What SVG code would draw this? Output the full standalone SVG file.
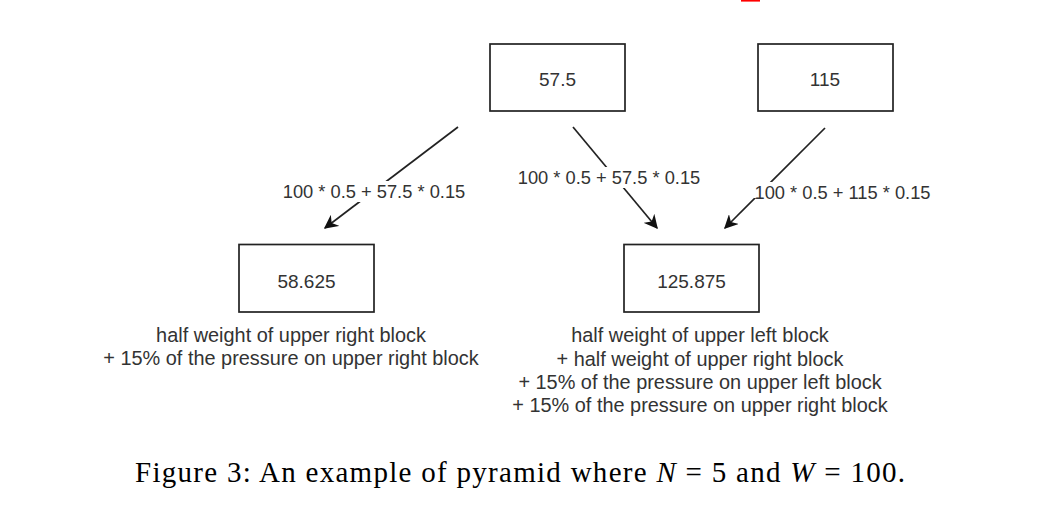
<svg xmlns="http://www.w3.org/2000/svg" width="1042" height="520" viewBox="0 0 1042 520">
<defs>
<style>
.box{fill:#fff;stroke:#222;stroke-width:1.7}
.val{font-family:"Liberation Sans",Arial,sans-serif;font-size:19px;fill:#333;text-anchor:middle}
.lbl{font-family:"Liberation Sans",Arial,sans-serif;font-size:18.3px;fill:#333;text-anchor:middle}
.note{font-family:"Liberation Sans",Arial,sans-serif;font-size:19.9px;fill:#333;text-anchor:middle}
.edge{stroke:#222;stroke-width:1.7;fill:none;marker-end:url(#arr)}
.cap{font-family:"Liberation Serif","Times New Roman",serif;font-size:29px;fill:#000}
</style>
<marker id="arr" viewBox="0 0 10 10" refX="9" refY="5" markerWidth="14" markerHeight="14" markerUnits="userSpaceOnUse" orient="auto">
<path d="M0,0 L10,5 L0,10 L3,5 z" fill="#111"/>
</marker>
</defs>
<rect width="1042" height="520" fill="#fff"/>
<rect x="741" y="0" width="19" height="1.6" fill="#f00"/>

<g id="connectors">
<line class="edge" x1="458" y1="127" x2="325" y2="228"/>
<line class="edge" x1="573" y1="127" x2="657" y2="228"/>
<line class="edge" x1="825" y1="128" x2="725" y2="228"/>
<rect x="282" y="181" width="185" height="21" fill="#fff"/>
<text class="lbl" x="374" y="197.5">100 * 0.5 + 57.5 * 0.15</text>
<rect x="517" y="167" width="184" height="21" fill="#fff"/>
<text class="lbl" x="609" y="183.5">100 * 0.5 + 57.5 * 0.15</text>
<rect x="754" y="182" width="178" height="16" fill="#fff"/>
<text class="lbl" x="842.5" y="198.5">100 * 0.5 + 115 * 0.15</text>
</g>

<g id="node-57-5">
<rect class="box" x="490" y="44" width="135" height="67"/>
<text class="val" x="557.5" y="85.5">57.5</text>
</g>
<g id="node-115">
<rect class="box" x="758" y="44" width="135" height="67"/>
<text class="val" x="825" y="85.5">115</text>
</g>
<g id="node-58-625">
<rect class="box" x="239" y="244.5" width="135" height="67.5"/>
<text class="val" x="306.5" y="287.5">58.625</text>
</g>
<g id="node-125-875">
<rect class="box" x="624" y="244.5" width="135" height="67.5"/>
<text class="val" x="691.5" y="287.5">125.875</text>
</g>

<g id="note-left">
<text class="note" x="291" y="342">half weight of upper right block</text>
<text class="note" x="291" y="365.3">+ 15% of the pressure on upper right block</text>
</g>
<g id="note-right">
<text class="note" x="700" y="342.3">half weight of upper left block</text>
<text class="note" x="700" y="365.6">+ half weight of upper right block</text>
<text class="note" x="700" y="388.9">+ 15% of the pressure on upper left block</text>
<text class="note" x="700" y="412.2">+ 15% of the pressure on upper right block</text>
</g>

<g id="caption">
<text class="cap" x="135" y="482" textLength="770" lengthAdjust="spacing">Figure 3:  An example of pyramid where <tspan font-style="italic">N</tspan> = 5 and <tspan font-style="italic">W</tspan> = 100.</text>
</g>
</svg>
